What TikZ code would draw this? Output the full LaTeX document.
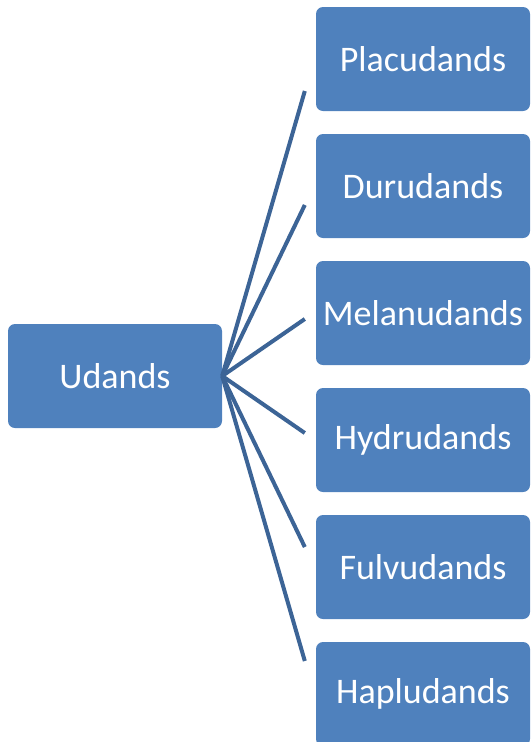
\documentclass[tikz,border=0pt]{standalone}
\usepackage{fontspec}
\setmainfont{Carlito}
\usetikzlibrary{positioning}
\definecolor{boxblue}{RGB}{79,129,189}
\definecolor{linkblue}{RGB}{60,100,150}
\tikzset{
  soil/.style ={rectangle, rounded corners=7pt, fill=boxblue, text=white,
                minimum width=214pt, minimum height=104pt, inner sep=0pt,
                font=\fontsize{36}{40}\selectfont},
  link/.style ={linkblue, line width=4pt},
}

\begin{document}
\begin{tikzpicture}[x=1pt, y=-1pt]
    \useasboundingbox (0,0) rectangle (531,742);
    % order (left)
    \node[soil] (udands) at (115,376) {Udands};

    % suborders (right)
    \node[soil] (placu) at (423,59) {Placudands};
    \node[soil, below=22.6pt of placu] (duru)  {Durudands};
    \node[soil, below=22.6pt of duru]  (melan) {Melanudands};
    \node[soil, below=22.6pt of melan] (hydru) {Hydrudands};
    \node[soil, below=22.6pt of hydru] (fulvu) {Fulvudands};
    \node[soil, below=22.6pt of fulvu] (haplu) {Hapludands};

    % fan of links
    \foreach \n [count=\i] in {placu,duru,melan,hydru,fulvu,haplu} {
      \path (udands.east -| \n.west) ++(-11,{114*(\i-3.5)}) coordinate (\n-end);
      \draw[link] (udands.east) -- (\n-end);
    }
\end{tikzpicture}
\end{document}
